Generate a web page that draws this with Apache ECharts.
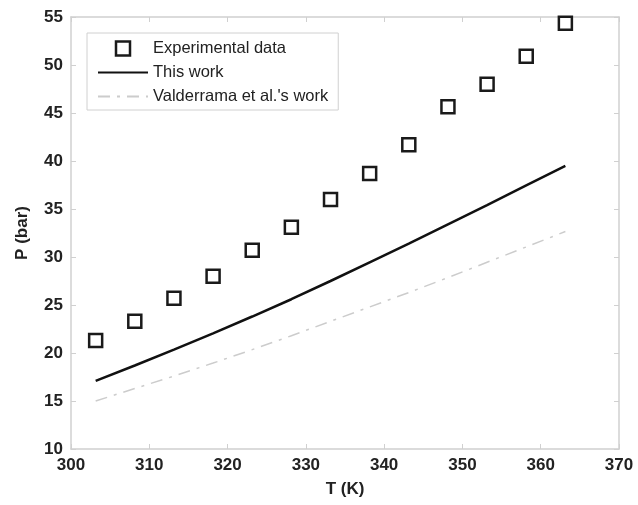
<!DOCTYPE html>
<html>
<head>
<meta charset="utf-8">
<script src="https://cdn.jsdelivr.net/npm/echarts@6/dist/echarts.min.js"></script>
<style>
  html, body { margin: 0; padding: 0; background: #fff; }
  #main { width: 638px; height: 505px; }
</style>
</head>
<body>
<div id="main"></div>
<script>
// temperatures (K)
var temps = [303.15, 308.15, 313.15, 318.15, 323.15, 328.15, 333.15, 338.15, 343.15, 348.15, 353.15, 358.15, 363.15];
// pressures (bar)
var expData = [21.3, 23.3, 25.7, 28.0, 30.7, 33.1, 36.0, 38.7, 41.7, 45.65, 48.0, 50.9, 54.35];
var thisWork = [17.1, 18.7, 20.35, 22.05, 23.8, 25.6, 27.5, 29.45, 31.4, 33.4, 35.4, 37.45, 39.5];
var valderrama = [15.0, 16.3, 17.6, 18.95, 20.35, 21.8, 23.3, 24.8, 26.3, 27.85, 29.45, 31.05, 32.65];

var seriesNames = ['Experimental data', 'This work', "Valderrama et al.'s work"];

function pairs(ys) {
  return temps.map(function (t, i) { return [t, ys[i]]; });
}

var chart = echarts.init(document.getElementById('main'));

var labelFont = {
  fontFamily: 'Liberation Sans, Arial, sans-serif',
  fontWeight: 'bold',
  fontSize: 17,
  color: '#222'
};
var axisGray = '#d0d0d0';

option = {
  animation: false,
  backgroundColor: '#fff',
  grid: { left: 71, right: 19, top: 17, bottom: 56 },
  legend: {
    orient: 'vertical',
    left: 87,
    top: 33,
    padding: [7, 10, 5, 10],
    itemWidth: 50,
    itemHeight: 14,
    itemGap: 7,
    backgroundColor: '#fff',
    borderColor: '#d0d0d0',
    borderWidth: 1,
    textStyle: { fontFamily: 'Liberation Sans, Arial, sans-serif', fontSize: 16.5, color: '#222' },
    data: [
      {
        name: seriesNames[0],
        icon: 'path://M0,0H10V10H0Z',
        itemStyle: { color: '#fff', borderColor: '#1a1a1a', borderWidth: 2.5 }
      },
      { name: seriesNames[1], itemStyle: { opacity: 0 } },
      { name: seriesNames[2], itemStyle: { opacity: 0 } }
    ]
  },
  xAxis: [
    {
      type: 'value', min: 300, max: 370, interval: 10,
      name: 'T (K)', nameLocation: 'middle', nameGap: 32,
      nameTextStyle: labelFont,
      axisLine: { show: true, lineStyle: { color: axisGray, width: 1.5 } },
      axisTick: { inside: true, length: 5, lineStyle: { color: axisGray } },
      axisLabel: Object.assign({ margin: 8 }, labelFont),
      splitLine: { show: false }
    },
    {
      type: 'value', position: 'top', min: 300, max: 370, interval: 10,
      axisLine: { show: true, lineStyle: { color: axisGray, width: 1.5 } },
      axisTick: { inside: true, length: 5, lineStyle: { color: axisGray } },
      axisLabel: { show: false },
      splitLine: { show: false }
    }
  ],
  yAxis: [
    {
      type: 'value', min: 10, max: 55, interval: 5,
      name: 'P (bar)', nameLocation: 'middle', nameGap: 40,
      nameTextStyle: labelFont,
      axisLine: { show: true, lineStyle: { color: axisGray, width: 1.5 } },
      axisTick: { inside: true, length: 5, lineStyle: { color: axisGray } },
      axisLabel: Object.assign({ margin: 8 }, labelFont),
      splitLine: { show: false }
    },
    {
      type: 'value', position: 'right', min: 10, max: 55, interval: 5,
      axisLine: { show: true, lineStyle: { color: axisGray, width: 1.5 } },
      axisTick: { inside: true, length: 5, lineStyle: { color: axisGray } },
      axisLabel: { show: false },
      splitLine: { show: false }
    }
  ],
  series: [
    {
      name: seriesNames[0],
      type: 'scatter',
      symbol: 'rect',
      symbolSize: 13,
      itemStyle: { color: '#fff', borderColor: '#1a1a1a', borderWidth: 2.5, opacity: 1 },
      data: pairs(expData),
      z: 5
    },
    {
      name: seriesNames[1],
      type: 'line',
      symbol: 'none',
      lineStyle: { color: '#111', width: 2.5 },
      itemStyle: { color: '#111' },
      data: pairs(thisWork)
    },
    {
      name: seriesNames[2],
      type: 'line',
      symbol: 'none',
      lineStyle: { color: '#cccccc', width: 1.5, type: [12, 7, 3, 7] },
      itemStyle: { color: '#cccccc' },
      data: pairs(valderrama)
    }
  ]
};

chart.setOption(option);
</script>
</body>
</html>
